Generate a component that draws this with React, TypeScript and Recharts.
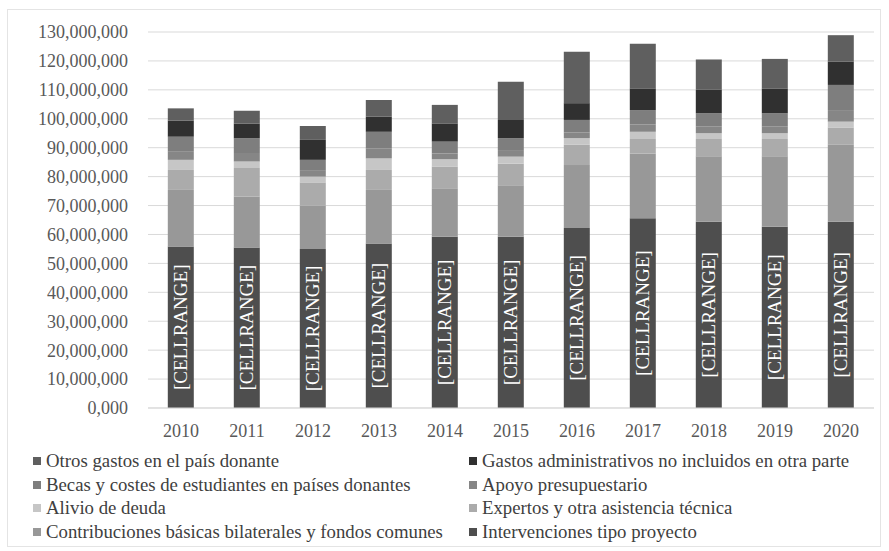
import React from 'react';
import { BarChart, Bar, XAxis, YAxis, CartesianGrid, Legend, LabelList } from 'recharts';

const years = ['2010', '2011', '2012', '2013', '2014', '2015', '2016', '2017', '2018', '2019', '2020'];
// values in millions
const intervenciones = [55.8, 55.5, 55.0, 56.9, 59.2, 59.2, 62.2, 65.6, 64.4, 62.7, 64.4];
const contribuciones = [19.6, 17.6, 15.0, 18.5, 16.8, 17.8, 21.8, 22.4, 22.6, 24.3, 26.6];
const expertos = [6.9, 9.9, 8.0, 6.9, 7.5, 7.5, 7.0, 5.0, 6.0, 6.0, 6.0];
const alivio = [3.5, 2.2, 2.0, 4.0, 2.5, 2.4, 2.3, 2.5, 2.0, 2.0, 2.0];
const apoyo = [3.0, 3.0, 2.0, 3.5, 2.0, 2.0, 2.0, 2.5, 2.4, 2.4, 4.0];
const becas = [5.0, 5.1, 3.8, 5.7, 4.1, 4.4, 4.3, 5.0, 4.5, 4.5, 8.7];
const gastos = [5.6, 5.1, 6.9, 5.2, 6.3, 6.3, 5.8, 7.5, 8.1, 8.6, 8.1];
const otros = [4.2, 4.4, 4.8, 5.8, 6.4, 13.2, 17.8, 15.4, 10.5, 10.2, 9.1];

const cellLabel = '[CELLRANGE]';

const yTicks = [0, 10e6, 20e6, 30e6, 40e6, 50e6, 60e6, 70e6, 80e6, 90e6, 100e6, 110e6, 120e6, 130e6];
const yTickLabels = ['0,000', '10,000,000', '20,000,000', '30,000,000', '40,000,000', '50,000,000', '60,000,000', '70,000,000', '80,000,000', '90,000,000', '100,000,000', '110,000,000', '120,000,000', '130,000,000'];

const series = [
  { key: 'interv', name: 'Intervenciones tipo proyecto', values: intervenciones, color: '#4e4e4e' },
  { key: 'contrib', name: 'Contribuciones básicas bilaterales y fondos comunes', values: contribuciones, color: '#989898' },
  { key: 'expertos', name: 'Expertos y otra asistencia técnica', values: expertos, color: '#ababab' },
  { key: 'alivio', name: 'Alivio de deuda', values: alivio, color: '#c6c6c6' },
  { key: 'apoyo', name: 'Apoyo presupuestario', values: apoyo, color: '#868686' },
  { key: 'becas', name: 'Becas y costes de estudiantes en países donantes', values: becas, color: '#7e7e7e' },
  { key: 'gastos', name: 'Gastos administrativos no incluidos en otra parte', values: gastos, color: '#303030' },
  { key: 'otros', name: 'Otros gastos en el país donante', values: otros, color: '#5f5f5f' },
];

const data = years.map((y, i) => {
  const row: any = { year: y, label: cellLabel };
  series.forEach((s) => { row[s.key] = s.values[i] * 1e6; });
  return row;
});

const FONT = '"Liberation Serif", "Times New Roman", serif';

const CellLabel = (props: any) => {
  const { x, y, width, height, value } = props;
  const cx = x + width / 2;
  const cy = y + height / 2;
  return (
    <text
      x={cx}
      y={cy}
      transform={`rotate(-90, ${cx}, ${cy})`}
      textAnchor="middle"
      dominantBaseline="central"
      fill="#ffffff"
      fontFamily={FONT}
      fontSize={19}
    >
      {value}
    </text>
  );
};

const LegendContent = () => {
  const ordered = [...series].reverse();
  return (
    <div style={{ position: 'relative', width: 889, height: 100 }}>
      {ordered.map((s, i) => {
        const col = i % 2;
        const row = Math.floor(i / 2);
        const left = col === 0 ? 33 : 469;
        const top = row * 23.5;
        return (
          <div
            key={s.key}
            style={{ position: 'absolute', left, top, height: 20, display: 'flex', alignItems: 'center', whiteSpace: 'nowrap' }}
          >
            <span style={{ display: 'inline-block', width: 8, height: 8, background: s.color, marginRight: 5 }} />
            <span style={{ fontFamily: FONT, fontSize: 18.8, color: '#404040' }}>{s.name}</span>
          </div>
        );
      })}
    </div>
  );
};

export default function App() {
  return (
    <div style={{ position: 'absolute', left: 0, top: 0, width: 889, height: 551, background: '#fff' }}>
      <div style={{ position: 'absolute', left: 7, top: 9, width: 872, height: 536, border: '1px solid #e4e4e4' }} />
      <BarChart
        width={889}
        height={551}
        data={data}
        margin={{ top: 32, right: 15, left: 0, bottom: 0 }}
        barCategoryGap="30%"
      >
        <CartesianGrid vertical={false} stroke="#d9d9d9" />
        <XAxis
          dataKey="year"
          height={143}
          tickLine={false}
          axisLine={{ stroke: '#d9d9d9' }}
          tickSize={0}
          tickMargin={16}
          tick={{ fontFamily: FONT, fontSize: 18, fill: '#595959' }}
          interval={0}
        />
        <YAxis
          width={148}
          domain={[0, 130e6]}
          ticks={yTicks}
          tickFormatter={(v: number) => yTickLabels[yTicks.indexOf(v)]}
          axisLine={false}
          tickLine={false}
          tickSize={0}
          tickMargin={20}
          tick={{ fontFamily: FONT, fontSize: 18, fill: '#595959' }}
          interval={0}
        />
        <Legend
          layout="horizontal"
          verticalAlign="middle"
          align="center"
          wrapperStyle={{ left: 0, top: 451, width: 889 }}
          content={<LegendContent />}
        />
        {series.map((s) => (
          <Bar key={s.key} dataKey={s.key} name={s.name} stackId="a" fill={s.color} isAnimationActive={false}>
            {s.key === 'interv' ? <LabelList dataKey="label" content={<CellLabel />} /> : null}
          </Bar>
        ))}
      </BarChart>
    </div>
  );
}
